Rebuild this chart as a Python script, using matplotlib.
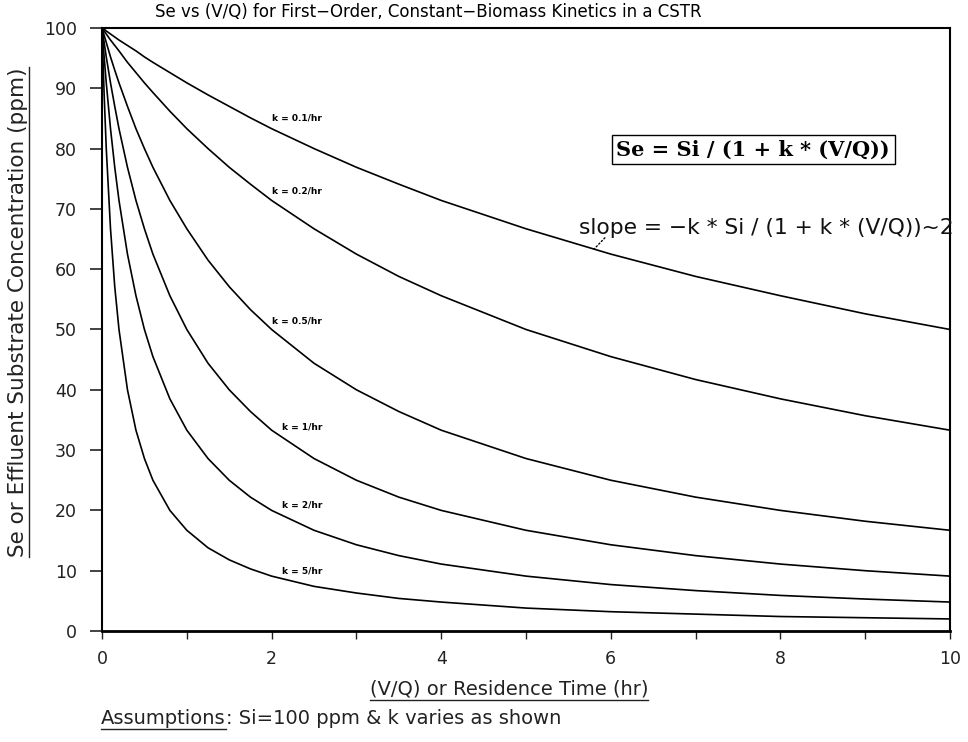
import matplotlib
matplotlib.use("Agg")
import matplotlib.pyplot as plt
from matplotlib.lines import Line2D
from matplotlib.ticker import MultipleLocator

# ── data: Se (ppm) vs V/Q (hr) for each k ──
vq = [0, 0.025, 0.05, 0.1, 0.15, 0.2, 0.3, 0.4, 0.5, 0.6, 0.8, 1.0, 1.25, 1.5, 1.75,
      2, 2.5, 3, 3.5, 4, 5, 6, 7, 8, 9, 10]

se_k01 = [100, 99.8, 99.5, 99.0, 98.5, 98.0, 97.1, 96.2, 95.2, 94.3, 92.6, 90.9, 88.9, 87.0, 85.1,
          83.3, 80.0, 76.9, 74.1, 71.4, 66.7, 62.5, 58.8, 55.6, 52.6, 50.0]
se_k02 = [100, 99.5, 99.0, 98.0, 97.1, 96.2, 94.3, 92.6, 90.9, 89.3, 86.2, 83.3, 80.0, 76.9, 74.1,
          71.4, 66.7, 62.5, 58.8, 55.6, 50.0, 45.5, 41.7, 38.5, 35.7, 33.3]
se_k05 = [100, 98.8, 97.6, 95.2, 93.0, 90.9, 87.0, 83.3, 80.0, 76.9, 71.4, 66.7, 61.5, 57.1, 53.3,
          50.0, 44.4, 40.0, 36.4, 33.3, 28.6, 25.0, 22.2, 20.0, 18.2, 16.7]
se_k1 = [100, 97.6, 95.2, 90.9, 87.0, 83.3, 76.9, 71.4, 66.7, 62.5, 55.6, 50.0, 44.4, 40.0, 36.4,
         33.3, 28.6, 25.0, 22.2, 20.0, 16.7, 14.3, 12.5, 11.1, 10.0, 9.1]
se_k2 = [100, 95.2, 90.9, 83.3, 76.9, 71.4, 62.5, 55.6, 50.0, 45.5, 38.5, 33.3, 28.6, 25.0, 22.2,
         20.0, 16.7, 14.3, 12.5, 11.1, 9.1, 7.7, 6.7, 5.9, 5.3, 4.8]
se_k5 = [100, 88.9, 80.0, 66.7, 57.1, 50.0, 40.0, 33.3, 28.6, 25.0, 20.0, 16.7, 13.8, 11.8, 10.3,
         9.1, 7.4, 6.3, 5.4, 4.8, 3.8, 3.2, 2.8, 2.4, 2.2, 2.0]

curve_labels = ['k = 0.1/hr', 'k = 0.2/hr', 'k = 0.5/hr', 'k = 1/hr', 'k = 2/hr', 'k = 5/hr']
label_x = [2.0, 2.0, 2.0, 2.12, 2.12, 2.12]
label_y = [85.0, 73.0, 51.4, 33.8, 20.9, 10.0]

# ── figure ────────────────────────────────────────────────────
fig = plt.figure(figsize=(9.68, 7.42), dpi=100)
ax = fig.add_axes([0.1054, 0.1496, 0.876, 0.8127])

for se in [se_k01, se_k02, se_k05, se_k1, se_k2, se_k5]:
    ax.plot(vq, se, color='black', linewidth=1.2)

for txt, x, y in zip(curve_labels, label_x, label_y):
    ax.text(x, y, txt, fontsize=6.5, fontweight='bold', ha='left', va='center')

ax.set_xlim(0, 10)
ax.set_ylim(0, 100)
ax.xaxis.set_major_locator(MultipleLocator(2))
ax.xaxis.set_minor_locator(MultipleLocator(1))
ax.yaxis.set_major_locator(MultipleLocator(10))
ax.tick_params(axis='x', which='both', direction='out', length=6, width=1,
               labelsize=12.5, pad=8, colors='#222')
ax.tick_params(axis='y', which='major', direction='out', length=9, width=1.2,
               labelsize=12.5, pad=9, colors='#222')
for sp in ax.spines.values():
    sp.set_linewidth(1.5)
ax.spines['bottom'].set_linewidth(2)

# formula box and slope note
ax.text(7.68, 79.8, 'Se = Si / (1 + k * (V/Q))', fontsize=15, fontweight='bold',
        family='DejaVu Serif', ha='center', va='center',
        bbox=dict(boxstyle='square,pad=0.22', facecolor='white', edgecolor='black', linewidth=1))
ax.text(5.62, 66.8, 'slope = \u2212k * Si / (1 + k * (V/Q))~2', fontsize=15.7,
        ha='left', va='center', color='#111')
ax.annotate('', xy=(5.8, 63.3), xytext=(5.93, 65.2),
            arrowprops=dict(arrowstyle='-', linestyle=':', color='black', lw=1,
                            shrinkA=0, shrinkB=0))

# titles and labels
fig.text(428 / 968, 1 - 12 / 742, 'Se vs (V/Q) for First\u2212Order, Constant\u2212Biomass Kinetics in a CSTR',
         fontsize=12, ha='center', va='center')
xl = fig.text(509 / 968, 1 - 689 / 742, '(V/Q) or Residence Time (hr)',
              fontsize=14, ha='center', va='center', color='#222')
yl = fig.text(18 / 968, 1 - 312 / 742, 'Se or Effluent Substrate Concentration (ppm)',
              fontsize=15.5, ha='center', va='center', rotation=90, color='#222')
a1 = fig.text(101 / 968, 1 - 718 / 742, 'Assumptions', fontsize=14, ha='left', va='center',
              color='#222')

fig.canvas.draw()
r = fig.canvas.get_renderer()
W, H = fig.bbox.width, fig.bbox.height

b = a1.get_window_extent(r)
fig.text(b.x1 / W, 1 - 718 / 742, ': Si=100 ppm & k varies as shown', fontsize=14,
         ha='left', va='center', color='#222')

# underlines
for t in [xl, a1]:
    bb = t.get_window_extent(r)
    fig.add_artist(Line2D([bb.x0 / W, bb.x1 / W], [(bb.y0 - 1) / H, (bb.y0 - 1) / H],
                          color='#222', linewidth=1))
bb = yl.get_window_extent(r)
fig.add_artist(Line2D([(bb.x1 + 1) / W, (bb.x1 + 1) / W], [bb.y0 / H, bb.y1 / H],
                      color='#222', linewidth=1))

fig.savefig('out.png', dpi=100)
